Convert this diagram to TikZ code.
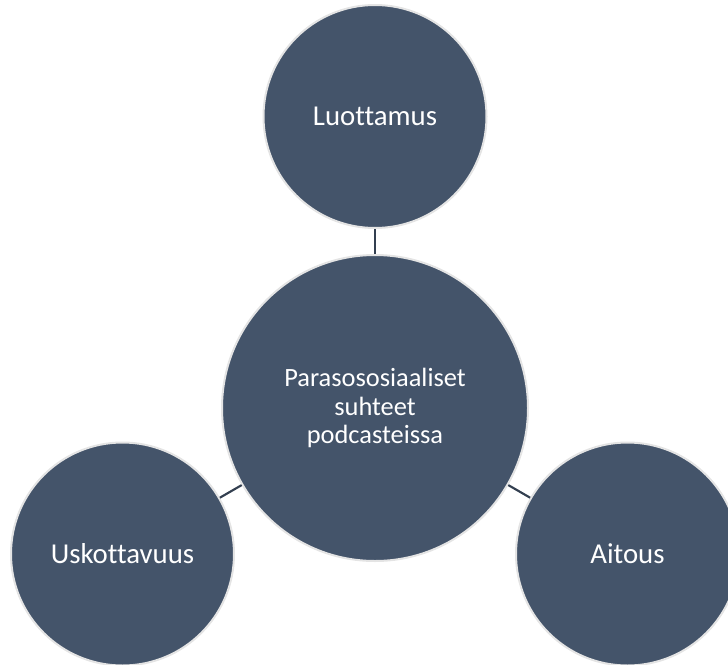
\documentclass[tikz,border=0pt]{standalone}
\usepackage{fontspec}
\setmainfont[Ligatures=NoCommon]{Carlito}
\usepackage{xcolor}
\usepackage{tikz}
\usetikzlibrary{positioning}
\definecolor{Slate}{HTML}{44546A}
\definecolor{SlateD}{HTML}{333F50}
\definecolor{Rim}{HTML}{E4E4E4}
\begin{document}
\begin{tikzpicture}[x=0.75pt,y=-0.75pt,
    hub/.style={circle,draw=Rim,fill=Slate,line width=1.5pt,minimum size=306*0.75pt,
      inner sep=0pt,align=center,text=white,font=\fontsize{19.8}{21.2}\selectfont},
    leaf/.style={circle,draw=Rim,fill=Slate,line width=1.5pt,minimum size=223*0.75pt,
      inner sep=0pt,align=center,text=white,font=\fontsize{21.6}{24}\selectfont},
    link/.style={draw=SlateD,line width=1.6pt}]
  \useasboundingbox (0,0) rectangle (728,664);
  \node[hub] (Ctr) at (375,408) {Parasososiaaliset\\suhteet\\podcasteissa};
  \node[leaf, above=18.75pt of Ctr] (Trust) {Luottamus};
  \node[leaf] (Cred) at (122.5,554) {Uskottavuus};
  \node[leaf] (Auth) at (627.5,554) {Aitous};
  \draw[link] (Ctr) -- (Trust);
  \draw[link] (Ctr) -- (Cred);
  \draw[link] (Ctr) -- (Auth);
\end{tikzpicture}
\end{document}
